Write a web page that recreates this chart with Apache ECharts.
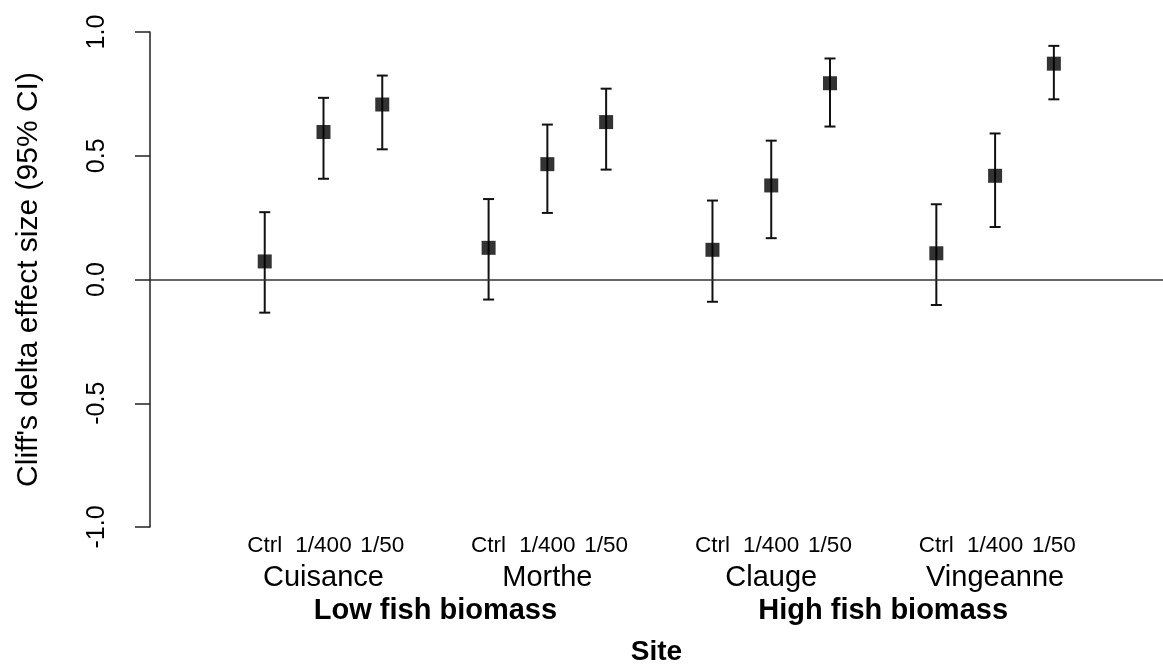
<!DOCTYPE html>
<html>
<head>
<meta charset="utf-8">
<script src="https://cdn.jsdelivr.net/npm/echarts@6/dist/echarts.min.js"></script>
<style>
html,body{margin:0;padding:0;background:#fff;}
#chart{width:1163px;height:671px;}
</style>
</head>
<body>
<div id="chart"></div>
<script>
// ---- data ----
const sites = ['Cuisance', 'Morthe', 'Clauge', 'Vingeanne'];
const treatments = ['Ctrl', '1/400', '1/50'];
const biomassGroups = ['Low fish biomass', 'High fish biomass'];
const estimate = [0.073, 0.596, 0.707, 0.128, 0.466, 0.636, 0.120, 0.380, 0.793, 0.106, 0.419, 0.872];
const lowerCI  = [-0.134, 0.407, 0.526, -0.081, 0.269, 0.444, -0.090, 0.167, 0.618, -0.103, 0.212, 0.728];
const upperCI  = [0.272, 0.734, 0.824, 0.325, 0.626, 0.771, 0.319, 0.561, 0.893, 0.304, 0.590, 0.944];
const yTickLabels = ['-1.0', '-0.5', '0.0', '0.5', '1.0'];
const yTitle = "Cliff's delta effect size (95% CI)";
const xTitle = 'Site';

// ---- positions on the x scale (derived from site index / treatment index) ----
const SITE_STEP = 4, TREAT_STEP = 1.05, FIRST_SITE = 2;
const siteCenter = sites.map((s, g) => FIRST_SITE + g * SITE_STEP);
const pointX = [];
sites.forEach((s, g) => treatments.forEach((t, j) => pointX.push(siteCenter[g] + (j - 1) * TREAT_STEP)));
const groupCenter = biomassGroups.map((b, k) => (siteCenter[2 * k] + siteCenter[2 * k + 1]) / 2);

const FONT = "'Liberation Sans', Arial, Helvetica, sans-serif";
const INK = '#000';

const pointData = pointX.map((x, i) => [x, estimate[i]]);
const ciData = pointX.map((x, i) => [x, lowerCI[i], upperCI[i]]);

function textRow(xs, labels, dy, size, weight) {
  return {
    type: 'custom',
    silent: true,
    clip: false,
    data: xs.map(x => [x, -1]),
    renderItem: function (params, api) {
      const p = api.coord([api.value(0), api.value(1)]);
      return {
        type: 'text',
        x: p[0],
        y: p[1] + dy,
        style: {
          text: labels[params.dataIndex],
          fontSize: size,
          fontWeight: weight,
          fontFamily: FONT,
          fill: INK,
          align: 'center',
          verticalAlign: 'middle'
        }
      };
    }
  };
}

const chart = echarts.init(document.getElementById('chart'), null, {renderer: 'canvas'});
chart.setOption({
  animation: false,
  backgroundColor: '#fff',
  grid: {left: 150, right: 0, top: 32, bottom: 135, containLabel: false},
  xAxis: {
    type: 'value', min: -1.1, max: 17,
    axisLine: {show: false}, axisTick: {show: false}, axisLabel: {show: false}, splitLine: {show: false},
    name: xTitle, nameLocation: 'middle', nameGap: 111,
    nameTextStyle: {fontSize: 28, fontWeight: 'bold', fontFamily: FONT, color: INK}
  },
  yAxis: {
    type: 'value', min: -1, max: 1, interval: 0.5,
    axisLine: {show: true, onZero: false, lineStyle: {color: '#222', width: 1.5}},
    axisTick: {show: true, length: 15, lineStyle: {color: '#222', width: 1.5}},
    axisLabel: {
      rotate: 90, margin: 40, fontSize: 25, fontFamily: FONT, color: INK,
      formatter: function (v) { return yTickLabels[Math.round((v + 1) / 0.5)]; }
    },
    splitLine: {show: false},
    name: yTitle, nameLocation: 'middle', nameRotate: 90, nameGap: 106,
    nameTextStyle: {fontSize: 30, fontFamily: FONT, color: INK}
  },
  series: [
    {
      type: 'custom',
      silent: true,
      data: ciData,
      renderItem: function (params, api) {
        const x = api.value(0);
        const lo = api.coord([x, api.value(1)]);
        const hi = api.coord([x, api.value(2)]);
        const hw = 5.5;
        const st = {stroke: '#111', lineWidth: 2};
        return {
          type: 'group',
          children: [
            {type: 'line', shape: {x1: lo[0], y1: lo[1], x2: hi[0], y2: hi[1]}, style: st},
            {type: 'line', shape: {x1: lo[0] - hw, y1: lo[1], x2: lo[0] + hw, y2: lo[1]}, style: st},
            {type: 'line', shape: {x1: hi[0] - hw, y1: hi[1], x2: hi[0] + hw, y2: hi[1]}, style: st}
          ]
        };
      },
      z: 3
    },
    {
      type: 'scatter',
      data: pointData,
      symbol: 'rect',
      symbolSize: 14,
      itemStyle: {color: '#000'},
      z: 4,
      silent: true,
      markLine: {
        silent: true,
        symbol: ['none', 'none'],
        label: {show: false},
        lineStyle: {color: '#333', width: 1.5, type: 'solid'},
        data: [{yAxis: 0}]
      }
    },
    textRow(pointX, pointX.map((x, i) => treatments[i % treatments.length]), 19, 22.5, 'normal'),
    textRow(siteCenter, sites, 51, 29, 'normal'),
    textRow(groupCenter, biomassGroups, 84, 29, 'bold')
  ]
});
</script>
</body>
</html>
